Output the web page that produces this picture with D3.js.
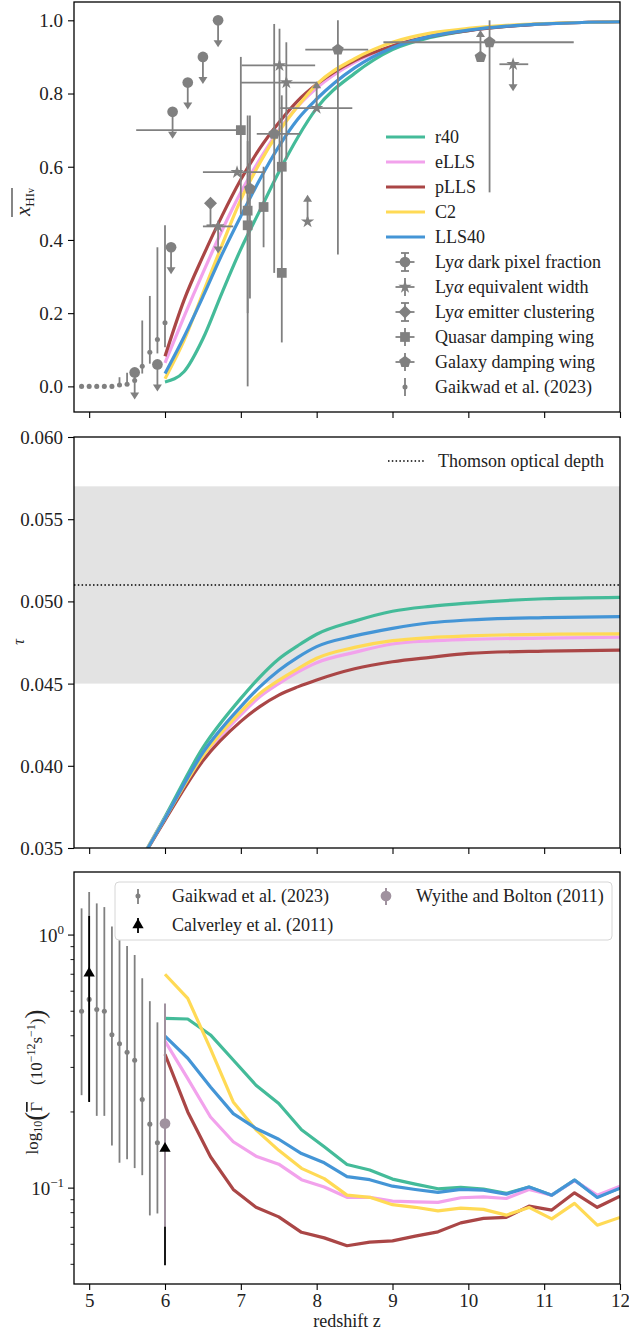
<!DOCTYPE html>
<html>
<head>
<meta charset="utf-8">
<title>Reionization history</title>
<script src="https://d3js.org/d3.v7.min.js"></script>
<style>
  body { margin: 0; background: #fff; }
  text { font-family: "Liberation Serif", "DejaVu Serif", serif; fill: #222; }
</style>
</head>
<body>
<svg width="629" height="1334"></svg>
<script>
// ---------- model names and colours
const models = ["r40", "eLLS", "pLLS", "C2", "LLS40"];
const modelColors = ["#44bb99", "#f2a2ec", "#aa4646", "#ffda55", "#4495d6"];

// ---------- top panel: volume-averaged neutral fraction
const xhiZ    = [6.0, 6.25, 6.5, 6.75, 7.0, 7.25, 7.5, 7.75, 8.0, 8.5, 9.0, 9.5, 10, 10.5, 11, 11.5, 12];
const xhiR40  = [0.012, 0.04, 0.13, 0.255, 0.375, 0.48, 0.585, 0.68, 0.76, 0.855, 0.92, 0.953, 0.972, 0.983, 0.99, 0.994, 0.996];
const xhiELLS = [0.064, 0.19, 0.31, 0.425, 0.53, 0.62, 0.70, 0.765, 0.815, 0.885, 0.93, 0.957, 0.973, 0.984, 0.99, 0.994, 0.996];
const xhiPLLS = [0.082, 0.235, 0.355, 0.465, 0.565, 0.65, 0.72, 0.78, 0.825, 0.89, 0.93, 0.956, 0.972, 0.983, 0.99, 0.994, 0.996];
const xhiC2   = [0.021, 0.125, 0.255, 0.385, 0.51, 0.61, 0.695, 0.765, 0.825, 0.895, 0.94, 0.965, 0.978, 0.986, 0.991, 0.994, 0.996];
const xhiLLS40= [0.035, 0.135, 0.245, 0.36, 0.465, 0.565, 0.655, 0.73, 0.785, 0.87, 0.925, 0.956, 0.973, 0.984, 0.99, 0.994, 0.996];

// observations: [z, value, xErrLow, xErrHigh, yErrLow, yErrHigh, limit]  limit "u" = upper, "l" = lower
const darkPixel = [
  [5.6, 0.038, 0, 0, 0, 0, "u"], [5.9, 0.06, 0, 0, 0, 0, "u"], [6.08, 0.38, 0, 0, 0, 0, "u"],
  [6.1, 0.75, 0, 0, 0, 0, "u"], [6.3, 0.83, 0, 0, 0, 0, "u"], [6.5, 0.90, 0, 0, 0, 0, "u"],
  [6.7, 1.00, 0, 0, 0, 0, "u"]
];
const eqWidth = [
  [6.70, 0.437, 0.2, 0.2, 0, 0, "u"], [6.95, 0.585, 0.45, 0.37, 0, 0, ""],
  [7.51, 0.877, 0.5, 0.47, 0.27, 0.10, ""], [7.60, 0.83, 0.6, 0.4, 0.21, 0.11, ""],
  [8.0, 0.76, 0.48, 0.47, 0, 0, "l"], [7.88, 0.45, 0, 0, 0, 0, "l"],
  [10.59, 0.88, 0.18, 0.2, 0, 0, "u"]
];
const emitterClust = [[6.6, 0.50, 0, 0, 0.06, 0, ""]];
const quasarDW = [
  [7.0, 0.70, 1.38, 0, 0.23, 0.20, ""], [7.09, 0.48, 0, 0, 0.28, 0.26, ""],
  [7.09, 0.44, 0, 0, 0.44, 0.23, ""], [7.3, 0.49, 0, 0, 0.11, 0.11, ""],
  [7.54, 0.60, 0, 0, 0.20, 0.195, ""], [7.54, 0.31, 0, 0, 0.19, 0.30, ""]
];
const galaxyDW = [
  [7.12, 0.54, 0, 0, 0.30, 0.20, ""], [7.44, 0.69, 0.23, 0.34, 0.38, 0.30, ""],
  [8.28, 0.92, 0.43, 0.40, 0.56, 0.08, ""], [10.28, 0.94, 1.40, 1.11, 0.41, 0.06, ""],
  [10.16, 0.90, 0, 0, 0, 0, "l"]
];
const gaikXZ  = [4.9, 5.0, 5.1, 5.2, 5.3, 5.4, 5.5, 5.6, 5.7, 5.8, 5.9, 6.0];
const gaikX   = [0, 0, 0, 0, 0, 0.004, 0.006, 0.016, 0.055, 0.093, 0.128, 0.174];
const gaikXLo = [0, 0, 0, 0, 0, 0.002, 0.004, 0.012, 0.035, 0.062, 0.09, 0.107];
const gaikXHi = [0, 0, 0, 0, 0, 0.025, 0.037, 0.05, 0.18, 0.247, 0.38, 0.44];

// ---------- middle panel: Thomson optical depth
const tauZ    = [5.5, 6.0, 6.5, 7.0, 7.25, 7.5, 7.75, 8.0, 8.5, 9.0, 9.5, 10, 11, 12];
const tauR40  = [0.0328, 0.0369, 0.0411, 0.0441, 0.0454, 0.0465, 0.0473, 0.0480, 0.0488, 0.0494, 0.0497, 0.0499, 0.05016, 0.05025];
const tauELLS = [0.0328, 0.0368, 0.0405, 0.0431, 0.0442, 0.0450, 0.0457, 0.04627, 0.0469, 0.04741, 0.0476, 0.04769, 0.04777, 0.04782];
const tauPLLS = [0.0328, 0.0367, 0.0403, 0.0427, 0.0436, 0.0443, 0.0448, 0.04522, 0.0459, 0.04633, 0.0466, 0.04684, 0.04698, 0.04704];
const tauC2   = [0.0328, 0.0368, 0.0406, 0.0433, 0.0444, 0.0452, 0.0459, 0.04654, 0.0472, 0.04761, 0.0478, 0.0479, 0.0480, 0.04802];
const tauLLS40= [0.0328, 0.0368, 0.0408, 0.0436, 0.0448, 0.0458, 0.0466, 0.04725, 0.0479, 0.04836, 0.0487, 0.04887, 0.04901, 0.04907];
const tauObs = 0.051, tauObsLo = 0.045, tauObsHi = 0.057;

// ---------- bottom panel: photoionisation rate
const gamZ    = [6.0, 6.3, 6.6, 6.9, 7.2, 7.5, 7.8, 8.1, 8.4, 8.7, 9.0, 9.3, 9.6, 9.9, 10.2, 10.5, 10.8, 11.1, 11.4, 11.7, 12.0];
const gamR40  = [0.469, 0.466, 0.403, 0.321, 0.255, 0.216, 0.170, 0.1456, 0.124, 0.118, 0.1086, 0.1037, 0.0994, 0.1007, 0.0991, 0.0953, 0.101, 0.0938, 0.1076, 0.0924, 0.100];
const gamELLS = [0.381, 0.271, 0.191, 0.1525, 0.1337, 0.1244, 0.108, 0.101, 0.092, 0.092, 0.0889, 0.0883, 0.0878, 0.0916, 0.0924, 0.091, 0.0988, 0.0938, 0.107, 0.0938, 0.1018];
const gamPLLS = [0.338, 0.200, 0.133, 0.0988, 0.084, 0.077, 0.0669, 0.0636, 0.0592, 0.0612, 0.0619, 0.0646, 0.0672, 0.0729, 0.0759, 0.0766, 0.0849, 0.0819, 0.0958, 0.084, 0.093];
const gamC2   = [0.70, 0.562, 0.355, 0.219, 0.170, 0.141, 0.1197, 0.109, 0.0938, 0.092, 0.086, 0.084, 0.0813, 0.0834, 0.0824, 0.0782, 0.0839, 0.0756, 0.0870, 0.0714, 0.0766];
const gamLLS40= [0.399, 0.326, 0.251, 0.197, 0.172, 0.156, 0.137, 0.1259, 0.111, 0.108, 0.1018, 0.0988, 0.0962, 0.0988, 0.0982, 0.0947, 0.101, 0.0938, 0.1076, 0.0919, 0.100];

const gaikGZ  = [4.9, 5.0, 5.1, 5.2, 5.3, 5.4, 5.5, 5.6, 5.7, 5.8, 5.9];
const gaikG   = [0.50, 0.557, 0.508, 0.50, 0.404, 0.372, 0.344, 0.32, 0.224, 0.179, 0.151];
const gaikGLo = [0.233, 0.22, 0.193, 0.193, 0.1475, 0.126, 0.130, 0.120, 0.1125, 0.078, 0.0794];
const gaikGHi = [1.275, 1.48, 1.334, 1.29, 1.08, 0.955, 0.905, 0.834, 0.675, 0.548, 0.452];
const calvZ  = [5.0, 6.0];
const calvG  = [0.706, 0.1435];
const calvLo = [0.219, 0.0496];
const calvHi = [1.19, 0.30];
const wbZ = [6.0], wbG = [0.18], wbLo = [0.0703], wbHi = [0.537];

const zTicks = [5, 6, 7, 8, 9, 10, 11, 12];

// =====================================================================
const svg = d3.select("svg");
const L = 74, R = 620;
const grey = "#808080";
const tickFont = 19, legFont = 18;
const x = d3.scaleLinear().domain([4.8, 12]).range([L, R]);
const yTop = d3.scaleLinear().domain([-0.07, 1.05]).range([412, 2]);
const yMid = d3.scaleLinear().domain([0.035, 0.060]).range([848, 437]);
const yBot = d3.scaleLog().domain([0.0418, 1.775]).range([1284, 872]);

const defs = svg.append("defs");
function clipFor(id, y0, y1) {
  defs.append("clipPath").attr("id", id).append("rect")
    .attr("x", L).attr("y", y0).attr("width", R - L).attr("height", y1 - y0);
  return "url(#" + id + ")";
}

function xAxis(y0, labels) {
  const g = svg.append("g").attr("transform", `translate(0,${y0})`)
    .call(d3.axisBottom(x).tickValues(zTicks).tickSize(6).tickPadding(4)
      .tickFormat(labels ? d3.format("d") : ""));
  g.select(".domain").remove();
  g.selectAll("line").attr("stroke", "#000").attr("stroke-width", 1.1);
  g.selectAll("text").attr("font-size", tickFont).attr("fill", "#222");
}
function yAxis(scale, ticks, fmt) {
  const g = svg.append("g").attr("transform", `translate(${L},0)`)
    .call(d3.axisLeft(scale).tickValues(ticks).tickSize(6).tickPadding(5).tickFormat(fmt));
  g.select(".domain").remove();
  g.selectAll("line").attr("stroke", "#000").attr("stroke-width", 1.1);
  g.selectAll("text").attr("font-size", tickFont).attr("fill", "#222").attr("dy", "0.34em");
  return g;
}
function frame(y0, y1) {
  svg.append("rect").attr("x", L).attr("y", y0).attr("width", R - L).attr("height", y1 - y0)
    .attr("fill", "none").attr("stroke", "#000").attr("stroke-width", 1.3);
}

// marker shapes
const pentagon = {
  draw(ctx, size) {
    const r = Math.sqrt(size / 2.378);
    for (let i = 0; i < 5; i++) {
      const a = -Math.PI / 2 + i * 2 * Math.PI / 5;
      i ? ctx.lineTo(r * Math.cos(a), r * Math.sin(a)) : ctx.moveTo(r * Math.cos(a), r * Math.sin(a));
    }
    ctx.closePath();
  }
};
const shapes = {
  circle: { type: d3.symbolCircle, size: 90, rot: 0 },
  star: { type: d3.symbolStar, size: 55, rot: 0 },
  diamond: { type: d3.symbolSquare, size: 85, rot: 45 },
  square: { type: d3.symbolSquare, size: 95, rot: 0 },
  pentagon: { type: pentagon, size: 90, rot: 0 },
  dot: { type: d3.symbolCircle, size: 20, rot: 0 },
  tri: { type: d3.symbolTriangle, size: 55, rot: 0 }
};
function marker(g, px, py, shape, color) {
  const s = shapes[shape];
  g.append("path").attr("d", d3.symbol().type(s.type).size(s.size)())
    .attr("transform", `translate(${px},${py}) rotate(${s.rot})`)
    .attr("fill", color);
}
function seg(g, x1, y1, x2, y2, color, w) {
  g.append("line").attr("x1", x1).attr("y1", y1).attr("x2", x2).attr("y2", y2)
    .attr("stroke", color).attr("stroke-width", w || 1.8);
}
function arrow(g, px, py, dir, color) {
  // dir = 1 down, -1 up
  const len = 27, tip = py + dir * len;
  seg(g, px, py, px, tip - dir * 5, color);
  g.append("path").attr("d", `M${px - 4.5},${tip - dir * 7}L${px + 4.5},${tip - dir * 7}L${px},${tip}Z`)
    .attr("fill", color);
}
function errPoints(g, rows, sy, shape, caps) {
  rows.forEach(([z, v, xl, xh, yl, yh, lim]) => {
    const px = x(z), py = sy(v);
    if (xl || xh) {
      seg(g, x(z - xl), py, x(z + xh), py, grey);
      if (caps) { seg(g, x(z - xl), py - 4, x(z - xl), py + 4, grey); seg(g, x(z + xh), py - 4, x(z + xh), py + 4, grey); }
    }
    if (yl || yh) {
      seg(g, px, sy(v - yl), px, sy(v + yh), grey);
      if (caps) { seg(g, px - 4, sy(v - yl), px + 4, sy(v - yl), grey); seg(g, px - 4, sy(v + yh), px + 4, sy(v + yh), grey); }
    }
    if (lim === "u") arrow(g, px, py, 1, grey);
    if (lim === "l") arrow(g, px, py, -1, grey);
    marker(g, px, py, shape, grey);
  });
}

// =================== TOP PANEL ===================
const topG = svg.append("g").attr("clip-path", clipFor("cTop", 2, 412));
const xhiSeries = [xhiR40, xhiELLS, xhiPLLS, xhiC2, xhiLLS40];
const lineTop = d3.line().x(d => x(d[0])).y(d => yTop(d[1])).curve(d3.curveMonotoneX);
xhiSeries.forEach((s, i) => {
  topG.append("path").attr("d", lineTop(xhiZ.map((z, j) => [z, s[j]])))
    .attr("fill", "none").attr("stroke", modelColors[i]).attr("stroke-width", 3.2);
});
const obsG = svg.append("g");
errPoints(obsG, darkPixel, yTop, "circle", true);
errPoints(obsG, eqWidth, yTop, "star", false);
errPoints(obsG, emitterClust, yTop, "diamond", true);
errPoints(obsG, quasarDW, yTop, "square", false);
errPoints(obsG, galaxyDW, yTop, "pentagon", false);
gaikXZ.forEach((z, i) => {
  if (gaikXHi[i] > 0) seg(obsG, x(z), yTop(gaikXLo[i]), x(z), yTop(gaikXHi[i]), grey);
  marker(obsG, x(z), yTop(gaikX[i]), "dot", grey);
});
frame(2, 412);
xAxis(412, false);
yAxis(yTop, [0, 0.2, 0.4, 0.6, 0.8, 1.0], d3.format(".1f"));

// top legend
const lgT = svg.append("g").attr("font-size", legFont);
models.forEach((m, i) => {
  const yy = 137 + i * 25;
  seg(lgT, 386, yy, 425, yy, modelColors[i], 3.2);
  lgT.append("text").attr("x", 435).attr("y", yy).attr("dy", "0.33em").text(m);
});
const obsLegend = [
  ["dark pixel fraction", "circle", true, true],
  ["equivalent width", "star", false, true],
  ["emitter clustering", "diamond", true, true],
  ["Quasar damping wing", "square", false, true],
  ["Galaxy damping wing", "pentagon", false, true],
  ["Gaikwad et al. (2023)", "dot", false, false]
];
obsLegend.forEach(([lab, shape, caps, hz], i) => {
  const yy = 262 + i * 25, cx = 405;
  if (hz) seg(lgT, cx - 9.5, yy, cx + 9.5, yy, grey);
  seg(lgT, cx, yy - 9, cx, yy + 9, grey);
  if (caps) { seg(lgT, cx - 4, yy - 9, cx + 4, yy - 9, grey); seg(lgT, cx - 4, yy + 9, cx + 4, yy + 9, grey); }
  marker(lgT, cx, yy, shape, grey);
  const t = lgT.append("text").attr("x", 435).attr("y", yy).attr("dy", "0.33em");
  if (i < 3) {
    t.append("tspan").text("Ly");
    t.append("tspan").attr("font-style", "italic").text("α");
    t.append("tspan").text(" " + lab);
  } else t.text(lab);
});

// top y label with overline
const ylT = svg.append("g").attr("transform", "translate(30,202) rotate(-90)");
const ylTt = ylT.append("text").attr("text-anchor", "middle").attr("font-size", 21);
ylTt.append("tspan").attr("font-style", "italic").text("x");
ylTt.append("tspan").attr("font-size", 13).attr("dy", 4).text("HI");
ylTt.append("tspan").attr("font-size", 10).text("v");
{
  const bb = ylTt.node().getBBox();
  ylT.append("line").attr("x1", bb.x).attr("x2", bb.x + bb.width).attr("y1", bb.y + 1).attr("y2", bb.y + 1)
    .attr("stroke", "#222").attr("stroke-width", 1.1);
}

// =================== MIDDLE PANEL ===================
svg.append("rect").attr("x", L).attr("width", R - L)
  .attr("y", yMid(tauObsHi)).attr("height", yMid(tauObsLo) - yMid(tauObsHi)).attr("fill", "#e3e3e3");
svg.append("line").attr("x1", L).attr("x2", R).attr("y1", yMid(tauObs)).attr("y2", yMid(tauObs))
  .attr("stroke", "#000").attr("stroke-width", 1.5).attr("stroke-dasharray", "1.5,2.3");
const midG = svg.append("g").attr("clip-path", clipFor("cMid", 437, 848));
const tauSeries = [tauR40, tauELLS, tauPLLS, tauC2, tauLLS40];
const lineMid = d3.line().x(d => x(d[0])).y(d => yMid(d[1])).curve(d3.curveMonotoneX);
tauSeries.forEach((s, i) => {
  midG.append("path").attr("d", lineMid(tauZ.map((z, j) => [z, s[j]])))
    .attr("fill", "none").attr("stroke", modelColors[i]).attr("stroke-width", 3.2);
});
frame(437, 848);
xAxis(848, false);
yAxis(yMid, [0.035, 0.040, 0.045, 0.050, 0.055, 0.060], d3.format(".3f"));
svg.append("line").attr("x1", 388).attr("x2", 424).attr("y1", 461).attr("y2", 461)
  .attr("stroke", "#000").attr("stroke-width", 1.5).attr("stroke-dasharray", "1.5,2.3");
svg.append("text").attr("x", 438).attr("y", 461).attr("dy", "0.33em").attr("font-size", legFont).text("Thomson optical depth");
svg.append("text").attr("transform", "translate(24,642) rotate(-90)").attr("text-anchor", "middle")
  .attr("font-size", 16).attr("font-style", "italic").text("τ");

// =================== BOTTOM PANEL ===================
const botG = svg.append("g").attr("clip-path", clipFor("cBot", 872, 1284));
const gamSeries = [gamR40, gamELLS, gamPLLS, gamC2, gamLLS40];
const lineBot = d3.line().x(d => x(d[0])).y(d => yBot(d[1]));
gamSeries.forEach((s, i) => {
  botG.append("path").attr("d", lineBot(gamZ.map((z, j) => [z, s[j]])))
    .attr("fill", "none").attr("stroke", modelColors[i]).attr("stroke-width", 3.2)
    .attr("stroke-linejoin", "round");
});
const ptsB = svg.append("g").attr("clip-path", "url(#cBot)");
const wbCol = "#a0929f";
gaikGZ.forEach((z, i) => {
  seg(ptsB, x(z), yBot(gaikGLo[i]), x(z), yBot(gaikGHi[i]), grey);
  marker(ptsB, x(z), yBot(gaikG[i]), "dot", grey);
});
calvZ.forEach((z, i) => {
  seg(ptsB, x(z), yBot(calvLo[i]), x(z), yBot(calvHi[i]), "#000");
});
wbZ.forEach((z, i) => {
  seg(ptsB, x(z), yBot(wbLo[i]), x(z), yBot(wbHi[i]), wbCol, 2);
  marker(ptsB, x(z), yBot(wbG[i]), "circle", wbCol);
});
calvZ.forEach((z, i) => marker(ptsB, x(z), yBot(calvG[i]), "tri", "#000"));
frame(872, 1284);
xAxis(1284, true);

// log y axis: majors with labels, minors without
const majors = [0.1, 1];
const minors = [0.05, 0.06, 0.07, 0.08, 0.09, 0.2, 0.3, 0.4, 0.5, 0.6, 0.7, 0.8, 0.9];
const yb = svg.append("g");
majors.forEach(v => seg(yb, L - 6, yBot(v), L, yBot(v), "#000", 1.1));
minors.forEach(v => seg(yb, L - 3.5, yBot(v), L, yBot(v), "#000", 0.9));
[["0", 1], ["\u22121", 0.1]].forEach(([ex, v]) => {
  const t = yb.append("text").attr("x", 64).attr("y", yBot(v)).attr("dy", "0.34em")
    .attr("text-anchor", "end").attr("font-size", tickFont);
  t.append("tspan").text("10");
  t.append("tspan").attr("font-size", 13).attr("dy", -8).text(ex);
});

// bottom legend
const lgB = svg.append("g").attr("font-size", legFont);
lgB.append("rect").attr("x", 115).attr("y", 882).attr("width", 497).attr("height", 58).attr("rx", 4)
  .attr("fill", "#fff").attr("fill-opacity", 0.85).attr("stroke", "#d6d6d6");
seg(lgB, 138, 889, 138, 904, grey); marker(lgB, 138, 896, "dot", grey);
lgB.append("text").attr("x", 172).attr("y", 896).attr("dy", "0.33em").text("Gaikwad et al. (2023)");
seg(lgB, 138, 918, 138, 933, "#000"); marker(lgB, 138, 925, "tri", "#000");
lgB.append("text").attr("x", 172).attr("y", 925).attr("dy", "0.33em").text("Calverley et al. (2011)");
seg(lgB, 386, 888, 386, 905, wbCol, 2); marker(lgB, 386, 896, "circle", wbCol);
lgB.append("text").attr("x", 416).attr("y", 896).attr("dy", "0.33em").text("Wyithe and Bolton (2011)");

// bottom y label
const ylB = svg.append("text").attr("transform", "translate(38,1082) rotate(-90)")
  .attr("text-anchor", "middle").attr("font-size", 17);
ylB.append("tspan").text("log");
ylB.append("tspan").attr("font-size", 12).attr("dy", 4).text("10");
ylB.append("tspan").attr("font-size", 27).attr("dy", 2).text("(");
ylB.append("tspan").attr("font-size", 17).attr("dy", -2).attr("text-decoration", "overline").text("Γ");
ylB.append("tspan").text("\u2002\u2002(10");
ylB.append("tspan").attr("font-size", 12).attr("dy", -7).text("\u221212");
ylB.append("tspan").attr("font-size", 17).attr("dy", 7).text("s");
ylB.append("tspan").attr("font-size", 12).attr("dy", -7).text("\u22121");
ylB.append("tspan").attr("font-size", 17).attr("dy", 7).text(")");
ylB.append("tspan").attr("font-size", 27).attr("dy", 2).text(")");

svg.append("text").attr("x", (L + R) / 2).attr("y", 1327).attr("text-anchor", "middle")
  .attr("font-size", 18).text("redshift z");
</script>
</body>
</html>
